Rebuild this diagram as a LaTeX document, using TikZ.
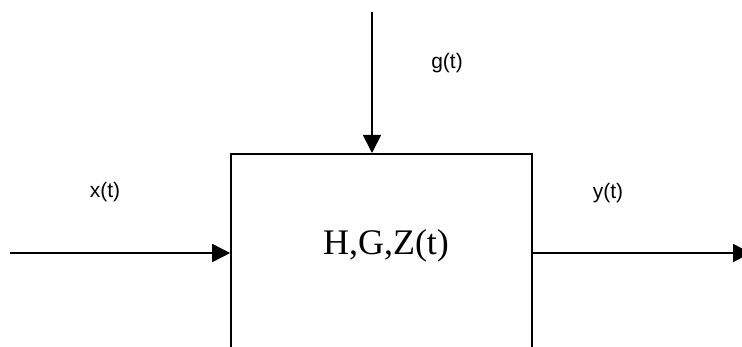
\documentclass[tikz,border=0pt]{standalone}
\usepackage{fontspec}
\setmainfont{Liberation Serif}
\newfontfamily\labelfont{Liberation Sans}
\usetikzlibrary{arrows.meta,positioning,calc}
\tikzset{
  sysbox/.style={draw, line width=1.6pt, minimum width=301pt, minimum height=230pt, anchor=north, inner sep=0pt},
  sysname/.style={inner sep=0pt, font=\fontsize{36}{40}\selectfont},
  siglabel/.style={inner sep=0pt, font=\labelfont\fontsize{21}{24}\selectfont},
  arrow/.style={-{Triangle[length=18pt,width=18pt]}, line width=1.6pt}
}
\begin{document}
\begin{tikzpicture}[x=1pt,y=-1pt]
  \useasboundingbox (0,0) rectangle (742,347);
  \clip (0,0) rectangle (742,347);
  \node[sysbox] (sys) at (381.5,153) {};
  \node[sysname] (name) at (386,246) {H,G,Z(t)};
  \coordinate (xin) at (10,253);
  \coordinate (gin) at (372,12);
  \coordinate (yout) at (751,253);
  \node[siglabel] (xlab) at (105,192) {x(t)};
  \node[siglabel] (glab) at (447,63) {g(t)};
  \node[siglabel] (ylab) at (608,193) {y(t)};
  \draw[arrow] (xin) -- (xin -| sys.west);
  \draw[arrow] (gin) -- (gin |- sys.north);
  \draw[arrow] (yout -| sys.east) -- (yout);
\end{tikzpicture}
\end{document}
